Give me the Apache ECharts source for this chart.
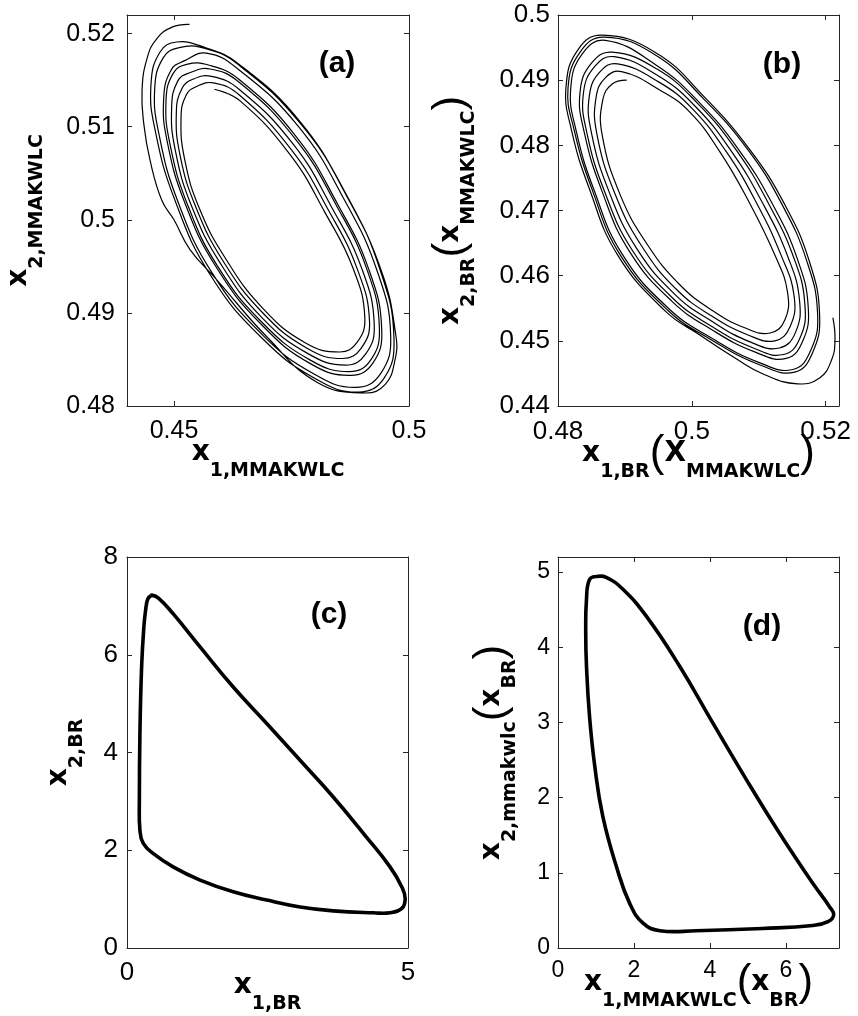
<!DOCTYPE html>
<html>
<head>
<meta charset="utf-8">
<script src="https://cdn.jsdelivr.net/npm/echarts@6/dist/echarts.min.js"></script>
<style>
  html, body { margin: 0; padding: 0; background: #fff; }
  #chart { width: 858px; height: 1016px; }
</style>
</head>
<body>
<div id="chart"></div>
<script>
// ---------- Panel (a): x1,MMAKWLC vs x2,MMAKWLC ----------
// transient start near the top, then successive loops (outer -> inner), clockwise point order
const aTail = [[0.4532,0.5210],[0.4496,0.5207],[0.4464,0.5195],[0.4443,0.5174],[0.4432,0.5139],[0.4436,0.5102],
  [0.4449,0.5064],[0.4474,0.5021],[0.4500,0.5000],[0.4534,0.4968],[0.4592,0.4935],[0.4700,0.4873],[0.4806,0.4825],
  [0.4906,0.4814],[0.4949,0.4823],[0.4970,0.4849],[0.4972,0.4876],[0.4942,0.4944],[0.4869,0.5024],[0.4769,0.5105],
  [0.4636,0.5168],[0.4566,0.5185]];
const aLoop1 = [[0.4506,0.5191],[0.4566,0.5184],[0.4636,0.5167],[0.4768,0.5104],[0.4870,0.5024],[0.4940,0.4944],[0.4968,0.4873],[0.4947,0.4830],[0.4892,0.4815],[0.4802,0.4829],[0.4687,0.4873],[0.4577,0.4941],[0.4502,0.5021],[0.4460,0.5096],[0.4451,0.5145],[0.4470,0.5180]];
const aLoop2 = [[0.4511,0.5185],[0.4569,0.5179],[0.4636,0.5162],[0.4765,0.5100],[0.4863,0.5021],[0.4933,0.4944],[0.4961,0.4876],[0.4940,0.4835],[0.4887,0.4820],[0.4799,0.4834],[0.4687,0.4877],[0.4581,0.4943],[0.4508,0.5020],[0.4468,0.5092],[0.4459,0.5141],[0.4477,0.5174]];
const aLoop3 = [[0.4523,0.5171],[0.4575,0.5166],[0.4638,0.5151],[0.4759,0.5090],[0.4848,0.5017],[0.4915,0.4946],[0.4942,0.4882],[0.4923,0.4846],[0.4876,0.4833],[0.4792,0.4845],[0.4687,0.4887],[0.4590,0.4949],[0.4524,0.5017],[0.4486,0.5083],[0.4478,0.5130],[0.4494,0.5161]];
const aLoop4 = [[0.4527,0.5167],[0.4577,0.5162],[0.4638,0.5148],[0.4758,0.5087],[0.4845,0.5016],[0.4911,0.4946],[0.4937,0.4884],[0.4918,0.4849],[0.4873,0.4837],[0.4791,0.4849],[0.4687,0.4890],[0.4593,0.4950],[0.4529,0.5016],[0.4492,0.5080],[0.4483,0.5128],[0.4498,0.5157]];
const aLoop5 = [[0.4534,0.5158],[0.4580,0.5154],[0.4639,0.5140],[0.4754,0.5081],[0.4836,0.5013],[0.4900,0.4947],[0.4926,0.4888],[0.4908,0.4856],[0.4865,0.4844],[0.4786,0.4856],[0.4687,0.4895],[0.4599,0.4953],[0.4538,0.5014],[0.4503,0.5074],[0.4495,0.5121],[0.4508,0.5149]];
const aLoop6 = [[0.4540,0.5151],[0.4584,0.5147],[0.4639,0.5134],[0.4750,0.5075],[0.4829,0.5010],[0.4890,0.4947],[0.4916,0.4891],[0.4898,0.4862],[0.4859,0.4851],[0.4783,0.4862],[0.4687,0.4901],[0.4604,0.4956],[0.4547,0.5013],[0.4513,0.5069],[0.4505,0.5116],[0.4517,0.5141]];
const aLoop7 = [[0.4547,0.5143],[0.4587,0.5140],[0.4640,0.5128],[0.4747,0.5070],[0.4821,0.5008],[0.4881,0.4948],[0.4906,0.4895],[0.4889,0.4868],[0.4853,0.4858],[0.4779,0.4868],[0.4687,0.4906],[0.4609,0.4959],[0.4555,0.5011],[0.4523,0.5064],[0.4515,0.5110],[0.4526,0.5134]];
const aXTicks = [0.45, 0.5];
const aYTicks = [0.48, 0.49, 0.5, 0.51, 0.52];

// ---------- Panel (b): x1,BR vs x2,BR ----------
// loops inner -> outer, clockwise point order, then the outgoing branch at the lower right
const bLoop1 = [[0.4869,0.4966],[0.4945,0.4943],[0.5019,0.4874],[0.5087,0.4793],[0.5139,0.4709],[0.5176,0.4621],[0.5191,0.4540],[0.5181,0.4483],[0.5154,0.4452],[0.5102,0.4463],[0.5030,0.4501],[0.4964,0.4547],[0.4893,0.4632],[0.4851,0.4732],[0.4824,0.4824],[0.4815,0.4888],[0.4833,0.4943]];
const bLoop2 = [[0.4871,0.4961],[0.4945,0.4939],[0.5017,0.4872],[0.5084,0.4793],[0.5135,0.4709],[0.5172,0.4622],[0.5188,0.4542],[0.5178,0.4486],[0.5151,0.4456],[0.5100,0.4467],[0.5030,0.4504],[0.4965,0.4550],[0.4896,0.4633],[0.4854,0.4731],[0.4827,0.4823],[0.4819,0.4887],[0.4836,0.4940]];
const bLoop3 = [[0.4881,0.4943],[0.4947,0.4923],[0.5011,0.4866],[0.5071,0.4792],[0.5120,0.4711],[0.5158,0.4625],[0.5174,0.4552],[0.5166,0.4500],[0.5141,0.4473],[0.5094,0.4483],[0.5030,0.4517],[0.4970,0.4561],[0.4907,0.4637],[0.4866,0.4729],[0.4839,0.4821],[0.4833,0.4882],[0.4850,0.4926]];
const bLoop4 = [[0.4884,0.4936],[0.4948,0.4917],[0.5009,0.4864],[0.5067,0.4792],[0.5114,0.4712],[0.5153,0.4626],[0.5169,0.4556],[0.5162,0.4505],[0.5137,0.4479],[0.5092,0.4489],[0.5030,0.4522],[0.4972,0.4565],[0.4911,0.4639],[0.4870,0.4728],[0.4843,0.4820],[0.4838,0.4880],[0.4855,0.4921]];
const bLoop5 = [[0.4889,0.4925],[0.4949,0.4907],[0.5005,0.4860],[0.5059,0.4791],[0.5105,0.4713],[0.5144,0.4628],[0.5161,0.4562],[0.5155,0.4513],[0.5131,0.4489],[0.5088,0.4498],[0.5030,0.4530],[0.4975,0.4571],[0.4918,0.4641],[0.4877,0.4727],[0.4850,0.4819],[0.4847,0.4877],[0.4863,0.4913]];
const bLoop6 = [[0.4895,0.4913],[0.4951,0.4897],[0.5001,0.4856],[0.5051,0.4791],[0.5095,0.4715],[0.5134,0.4630],[0.5153,0.4568],[0.5147,0.4522],[0.5124,0.4500],[0.5084,0.4509],[0.5030,0.4538],[0.4978,0.4578],[0.4926,0.4644],[0.4885,0.4726],[0.4858,0.4818],[0.4857,0.4874],[0.4871,0.4904]];
const bLoop7 = [[0.4902,0.4900],[0.4952,0.4885],[0.4997,0.4851],[0.5042,0.4790],[0.5084,0.4716],[0.5124,0.4632],[0.5143,0.4575],[0.5139,0.4532],[0.5117,0.4512],[0.5079,0.4520],[0.5030,0.4547],[0.4982,0.4586],[0.4934,0.4647],[0.4893,0.4724],[0.4866,0.4816],[0.4867,0.4870],[0.4881,0.4894]];
const bTail = [[0.4866,0.4969],[0.4830,0.4947],[0.4812,0.4890],[0.4820,0.4824],[0.4847,0.4733],[0.4889,0.4632],[0.4960,0.4546],
  [0.5012,0.4509],[0.5064,0.4474],[0.5109,0.4448],[0.5158,0.4434],[0.5191,0.4443],[0.5209,0.4471],[0.5214,0.4501],[0.5211,0.4535]];
const bXTicks = [0.48, 0.5, 0.52];
const bYTicks = [0.44, 0.45, 0.46, 0.47, 0.48, 0.49, 0.5];

// ---------- Panel (c): limit cycle x1,BR vs x2,BR ----------
const cCycle = [[0.44,7.22],[0.56,7.16],[0.82,6.84],[1.30,6.16],[1.89,5.34],[2.49,4.59],[3.08,3.84],[3.67,3.09],[4.26,2.27],
  [4.68,1.66],[4.89,1.25],[4.95,1.01],[4.89,0.81],[4.68,0.72],[4.38,0.72],[3.67,0.76],[3.08,0.84],[2.49,0.98],
  [1.89,1.15],[1.30,1.39],[0.82,1.66],[0.47,1.93],[0.29,2.14],[0.23,2.41],[0.22,3.02],[0.23,4.39],[0.26,5.75],
  [0.30,6.57],[0.33,6.90],[0.37,7.14],[0.44,7.22]];
const cXTicks = [0, 5];
const cYTicks = [0, 2, 4, 6, 8];

// ---------- Panel (d): limit cycle x1,MMAKWLC vs x2,mmakwlc ----------
const dCycle = [[1.01,4.94],[1.27,4.93],[1.71,4.77],[2.33,4.41],[3.20,3.75],[4.08,2.99],[4.96,2.24],[5.83,1.53],[6.71,0.86],
  [7.15,0.55],[7.26,0.44],[7.11,0.35],[6.71,0.30],[5.39,0.26],[3.64,0.23],[2.68,0.23],[2.24,0.33],[1.89,0.59],
  [1.54,1.08],[1.18,1.75],[0.97,2.41],[0.83,3.08],[0.75,3.75],[0.73,4.19],[0.75,4.64],[0.83,4.90],[1.01,4.94]];
const dXTicks = [0, 2, 4, 6];
const dYTicks = [0, 1, 2, 3, 4, 5];

// clockwise loop -> counter-clockwise traversal starting from the same top point
const ccw = loop => [loop[0]].concat(loop.slice(1).reverse());
const aPath = aTail.concat(...[aLoop1, aLoop2, aLoop3, aLoop4, aLoop5, aLoop6, aLoop7].map(ccw));
const bPath = [].concat(...[bLoop7, bLoop6, bLoop5, bLoop4, bLoop3, bLoop2, bLoop1].map(ccw), bTail);

const FONT = '"Liberation Sans", Arial, Helvetica, sans-serif';
const TITLE_FONT = '"DejaVu Sans", Verdana, sans-serif';
const INK = '#000';
const BOX = '#262626';

// axis-title typography: bold x, lowered bold subscript, large upright parentheses.
// Every token shares one 53px line so the block has a fixed height.
const nameRich = {
  x: { fontFamily: TITLE_FONT, fontWeight: 'bold', fontSize: 28, lineHeight: 53, padding: [8, 0, 17, 0], color: INK },
  s: { fontFamily: TITLE_FONT, fontWeight: 'bold', fontSize: 19, lineHeight: 53, padding: [31, 0, 3, 0], color: INK },
  p: { fontFamily: FONT, fontWeight: 'normal', fontSize: 44, lineHeight: 53, padding: [0, 0, 9, 0], color: INK }
};

const fmt = v => String(+Number(v).toFixed(4));

const panels = [
  { box: { left: 127, top: 15, width: 282, height: 391 }, x: [0.44, 0.5], y: [0.48, 0.522],
    xt: aXTicks, yt: aYTicks, fs: 25, xm: 13, ym: 12,
    xName: '{x|x}{s|1,MMAKWLC}', yName: '{x|x}{s|2,MMAKWLC}', xGap: 25, yGap: 77,
    data: aPath, lw: 1.2 },
  { box: { left: 558, top: 15, width: 281, height: 391 }, x: [0.48, 0.522], y: [0.44, 0.5],
    xt: bXTicks, yt: bYTicks, fs: 26, xm: 13, ym: 8,
    xName: '{x|x}{s|1,BR}{p|(}{x|X}{s|MMAKWLC}{p|)}', yName: '{x|x}{s|2,BR}{p|(}{x|x}{s|MMAKWLC}{p|)}',
    xGap: 26, yGap: 76, data: bPath, lw: 1.2 },
  { box: { left: 127, top: 557, width: 281, height: 391 }, x: [0, 5], y: [0, 8],
    xt: cXTicks, yt: cYTicks, fs: 26, xm: 12, ym: 9,
    xName: '{x|x}{s|1,BR}', yName: '{x|x}{s|2,BR}', xGap: 16, yGap: 37,
    data: cCycle, lw: 3.6 },
  { box: { left: 558, top: 557, width: 281, height: 391 }, x: [0, 7.4], y: [0, 5.2],
    xt: dXTicks, yt: dYTicks, fs: 23, xm: 11, ym: 8,
    xName: '{x|x}{s|1,MMAKWLC}{p|(}{x|x}{s|BR}{p|)}', yName: '{x|x}{s|2,mmakwlc}{p|(}{x|x}{s|BR}{p|)}',
    xGap: 13, yGap: 35, data: dCycle, lw: 3.6 }
];

// one smooth stroke through all trajectory points, positioned by the panel's axes
function trajectory(path, width) {
  return function (params, api) {
    if (params.dataIndex !== 0) return null;
    const pts = path.map(p => api.coord(p));
    return {
      type: 'polyline',
      shape: { points: pts, smooth: 0.45 },
      style: { stroke: INK, lineWidth: width, fill: null, lineJoin: 'round', lineCap: 'round' },
      silent: true
    };
  };
}

const grid = [], xAxis = [], yAxis = [], series = [];
panels.forEach((p, i) => {
  grid.push(Object.assign({ containLabel: false, outerBoundsMode: 'none' }, p.box));
  const line = { show: true, onZero: false, lineStyle: { color: BOX, width: 1 } };
  const tick = vals => ({ show: true, inside: true, length: 5, customValues: vals, lineStyle: { color: BOX, width: 1 } });
  const label = (vals, m) => ({ show: true, customValues: vals, formatter: fmt, margin: m,
    fontFamily: FONT, fontSize: p.fs, color: INK, hideOverlap: false });
  // bottom / left carry labels and names; top / right only mirror the ticks
  xAxis.push({ gridIndex: i, type: 'value', position: 'bottom', min: p.x[0], max: p.x[1],
    axisLine: line, axisTick: tick(p.xt), axisLabel: label(p.xt, p.xm), splitLine: { show: false },
    name: p.xName, nameLocation: 'middle', nameGap: p.xGap, nameMoveOverlap: false,
    nameTextStyle: { rich: nameRich } });
  xAxis.push({ gridIndex: i, type: 'value', position: 'top', min: p.x[0], max: p.x[1],
    axisLine: line, axisTick: tick(p.xt), axisLabel: { show: false }, splitLine: { show: false } });
  yAxis.push({ gridIndex: i, type: 'value', position: 'left', min: p.y[0], max: p.y[1],
    axisLine: line, axisTick: tick(p.yt), axisLabel: label(p.yt, p.ym), splitLine: { show: false },
    name: p.yName, nameLocation: 'middle', nameGap: p.yGap, nameRotate: 90, nameMoveOverlap: false,
    nameTextStyle: { rich: nameRich } });
  yAxis.push({ gridIndex: i, type: 'value', position: 'right', min: p.y[0], max: p.y[1],
    axisLine: line, axisTick: tick(p.yt), axisLabel: { show: false }, splitLine: { show: false } });
  series.push({ type: 'custom', xAxisIndex: 2 * i, yAxisIndex: 2 * i, data: p.data,
    encode: { x: 0, y: 1 }, renderItem: trajectory(p.data, p.lw), silent: true, clip: true });
});

// panel tags
const tag = (text, x, y) => ({ type: 'text', x: x, y: y, silent: true,
  style: { text: text, font: 'bold 30px ' + FONT, fill: INK,
    align: 'center', verticalAlign: 'middle', textAlign: 'center', textVerticalAlign: 'middle' } });

const chart = echarts.init(document.getElementById('chart'), null, { renderer: 'canvas' });
chart.setOption({
  backgroundColor: '#fff',
  animation: false,
  grid: grid, xAxis: xAxis, yAxis: yAxis, series: series,
  graphic: [tag('(a)', 337, 64), tag('(b)', 782, 65), tag('(c)', 329, 615), tag('(d)', 762, 627)]
});
</script>
</body>
</html>
